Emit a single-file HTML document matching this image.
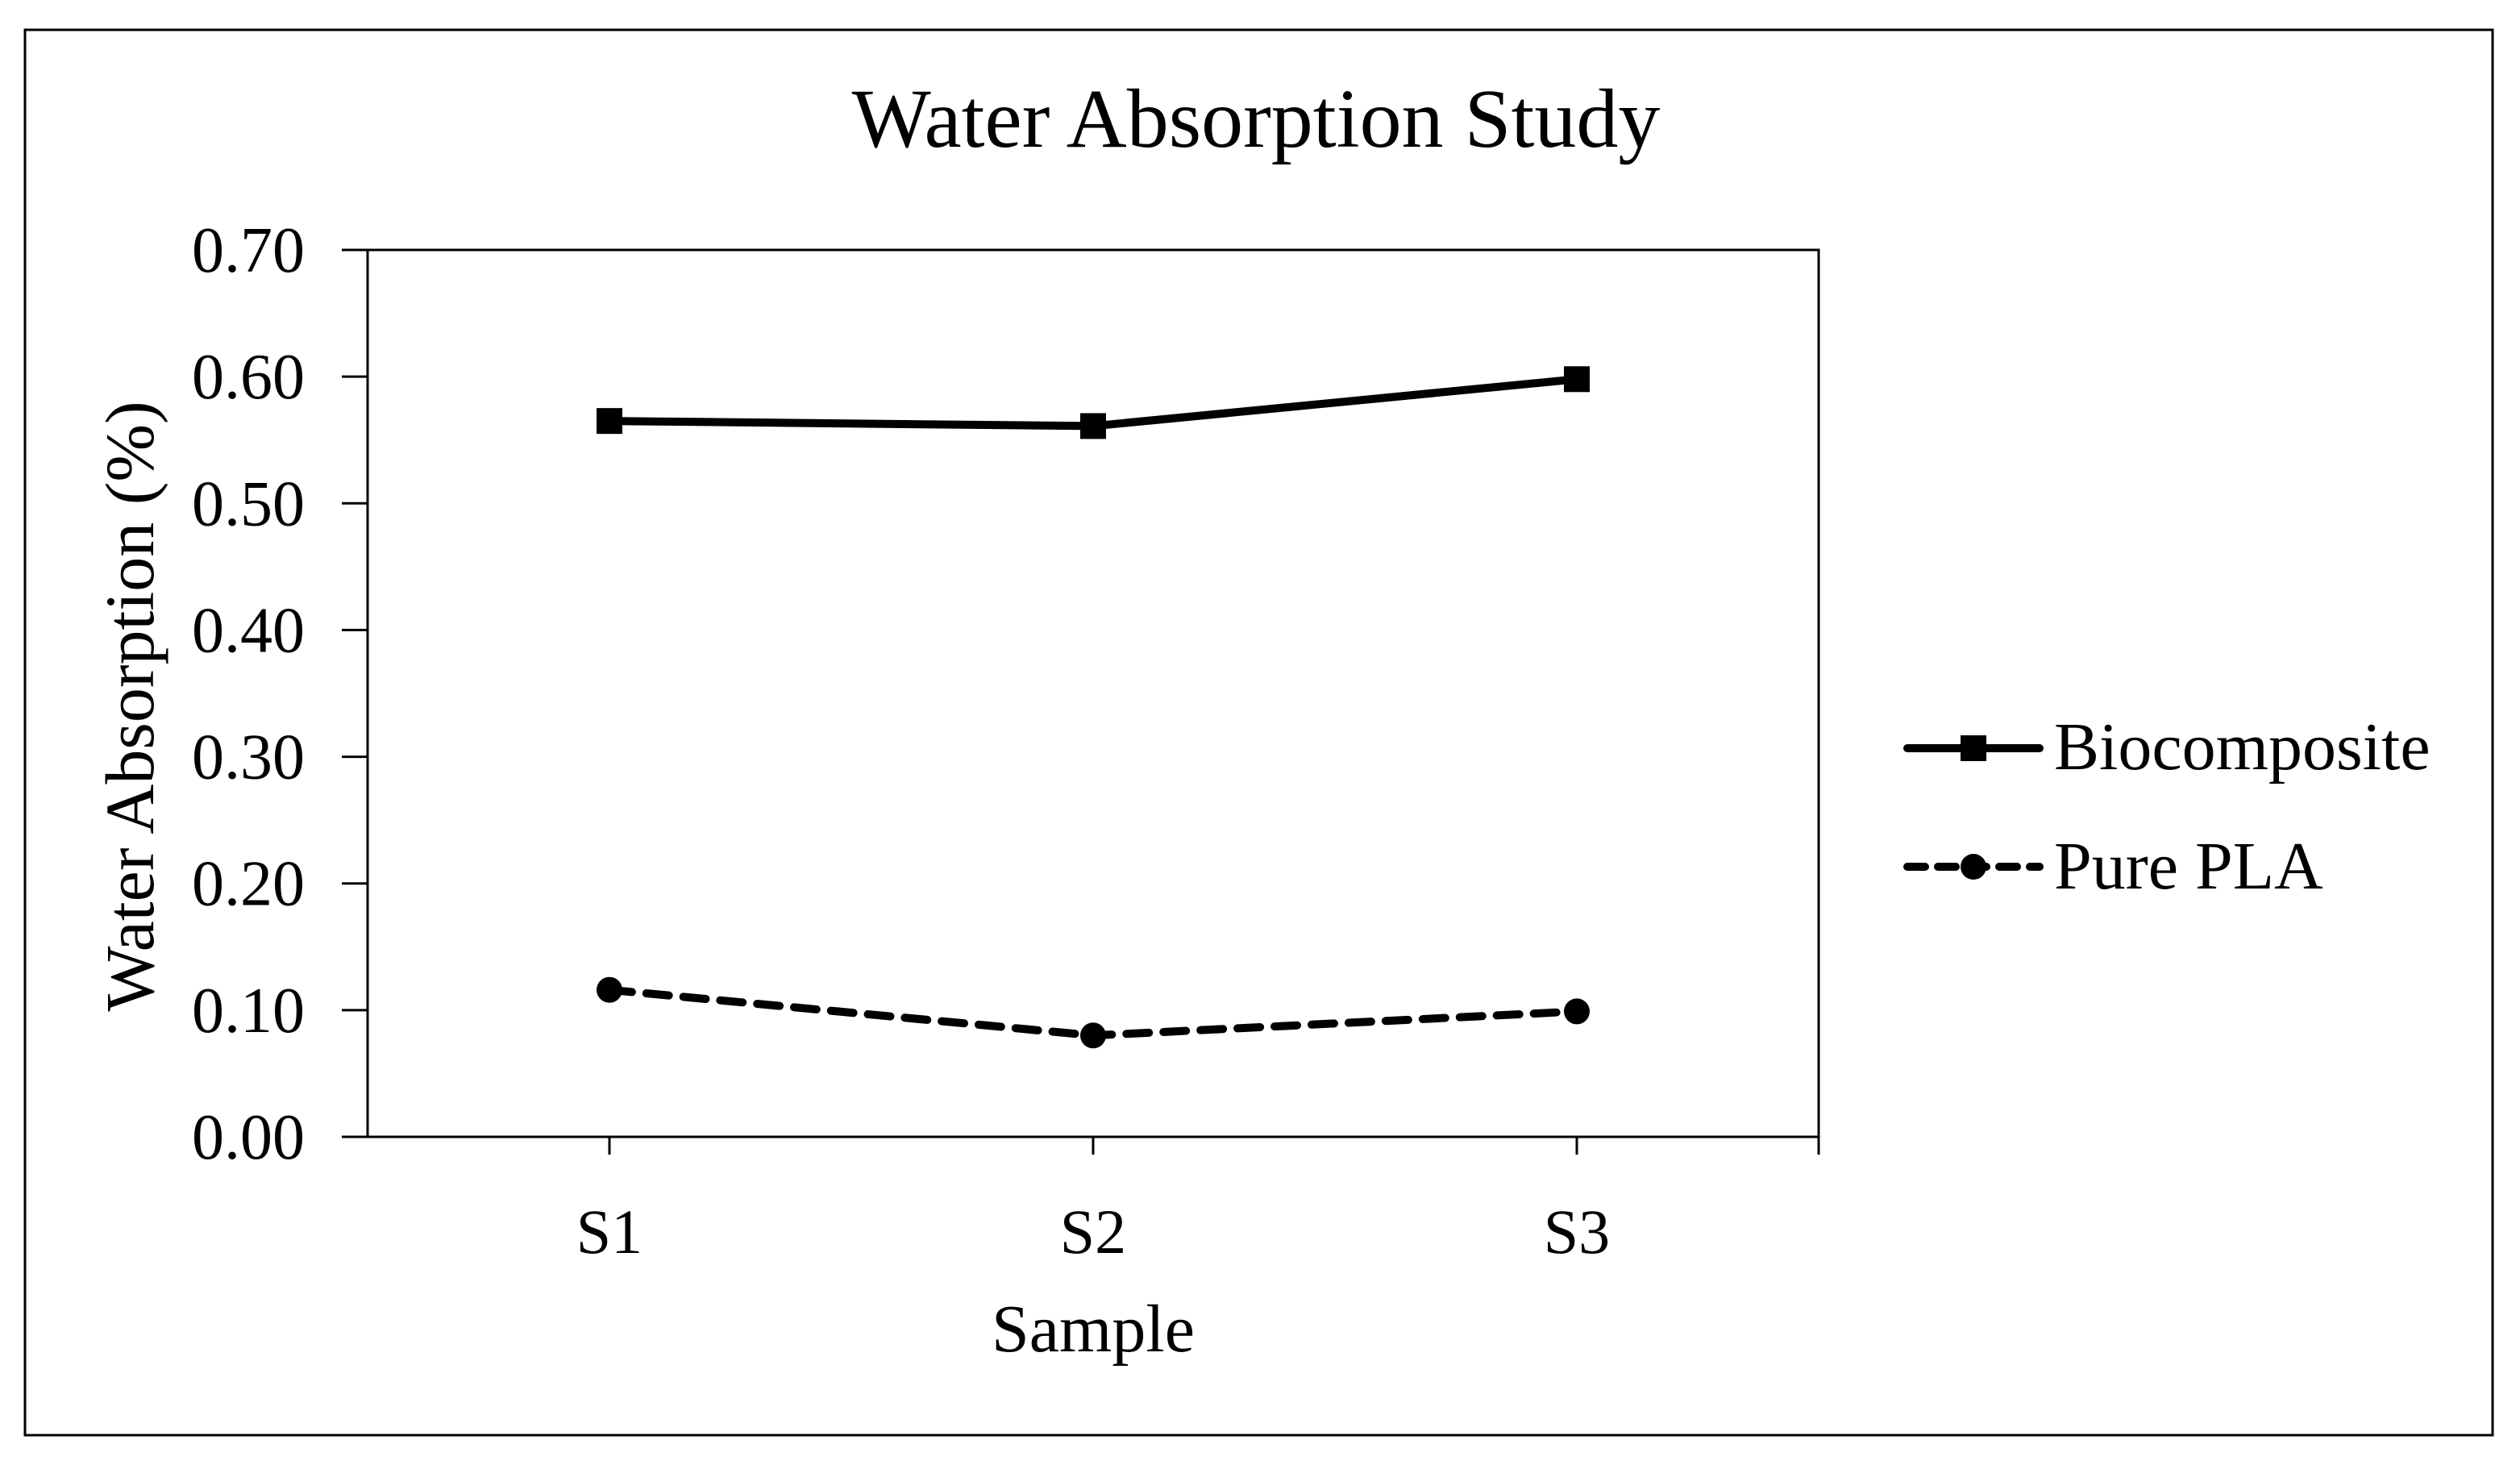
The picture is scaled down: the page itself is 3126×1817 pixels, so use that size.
<!DOCTYPE html>
<html><head><meta charset="utf-8"><style>
html,body{margin:0;padding:0;background:#fff;}
svg{display:block;}
text{font-family:"Liberation Serif",serif;fill:#000;}
</style></head><body>
<svg id="chart" width="3126" height="1817" viewBox="0 0 3126 1817" xmlns="http://www.w3.org/2000/svg">
<rect x="31" y="37" width="3061" height="1743" fill="#fff" stroke="#000" stroke-width="3"/>
<text x="1558" y="182" font-size="104" text-anchor="middle">Water Absorption Study</text>
<g id="axes"></g>
<g id="series"></g>
<text x="0" y="0" font-size="86" text-anchor="middle" transform="translate(190,876) rotate(-90)">Water Absorption (%)</text>
<text x="1356" y="1676" font-size="84" text-anchor="middle">Sample</text>
<g>
<g>
<line x1="2366" y1="928" x2="2530" y2="928" stroke="#000" stroke-width="10" stroke-linecap="round"/>
<rect x="2432" y="912" width="32" height="32" fill="#000"/>
<text x="2548" y="954" font-size="84">Biocomposite</text>
</g>
<g>
<line x1="2366" y1="1075" x2="2530" y2="1075" stroke="#000" stroke-width="10" stroke-dasharray="22,16" stroke-linecap="round"/>
<circle cx="2448" cy="1075" r="16" fill="#000"/>
<text x="2548" y="1102" font-size="84">Pure PLA</text>
</g>
</g>
</svg>
<script>
const categories = ["S1","S2","S3"];
const biocomposite = [0.565, 0.561, 0.598];
const purePLA = [0.116, 0.080, 0.099];
const yTicks = [0,0.1,0.2,0.3,0.4,0.5,0.6,0.7];
const yTickLabels = ["0.00","0.10","0.20","0.30","0.40","0.50","0.60","0.70"];

const L=456,R=2256,T=310,B=1410,YMAX=0.7;
const NS="http://www.w3.org/2000/svg";
function xs(i){return L+(R-L)/categories.length*(i+0.5);}
function ys(v){return B-(v/YMAX)*(B-T);}
function mk(tag,attrs,parent){const e=document.createElementNS(NS,tag);for(const k in attrs)e.setAttribute(k,attrs[k]);parent.appendChild(e);return e;}
const axes=document.getElementById('axes');
const series=document.getElementById('series');

const box=mk('rect',{x:L,y:T,width:R-L,height:B-T,fill:'none',stroke:'#000','stroke-width':3},axes);



yTicks.forEach((v,i)=>{
  const t=mk('line',{x1:424,x2:L,y1:ys(v),y2:ys(v),stroke:'#000','stroke-width':3},axes);
  
  
  const tx=mk('text',{x:378,y:ys(v)+27,'font-size':80,'text-anchor':'end'},axes);
  tx.textContent=yTickLabels[i];
  
  
});
categories.forEach((c,i)=>{
  const t=mk('line',{x1:xs(i),x2:xs(i),y1:B,y2:1432,stroke:'#000','stroke-width':3},axes);
  
  
});
const rt=mk('line',{x1:R,x2:R,y1:B,y2:1432,stroke:'#000','stroke-width':3},axes);


categories.forEach((c,i)=>{
  const tx=mk('text',{x:xs(i),y:1554,'font-size':78,'text-anchor':'middle'},axes);
  tx.textContent=c;
  
  
});

const p1=mk('polyline',{points:biocomposite.map((v,i)=>xs(i)+','+ys(v)).join(' '),fill:'none',stroke:'#000','stroke-width':10,'stroke-linejoin':'round'},series);


biocomposite.forEach((v,i)=>{
  const m=mk('rect',{x:xs(i)-16,y:ys(v)-16,width:32,height:32,fill:'#000'},series);
  
  
});
const p2=mk('polyline',{points:purePLA.map((v,i)=>xs(i)+','+ys(v)).join(' '),fill:'none',stroke:'#000','stroke-width':10,'stroke-dasharray':'28,18','stroke-linecap':'round'},series);


purePLA.forEach((v,i)=>{
  const m=mk('circle',{cx:xs(i),cy:ys(v),r:16,fill:'#000'},series);
  
  
});
</script>
</body></html>
